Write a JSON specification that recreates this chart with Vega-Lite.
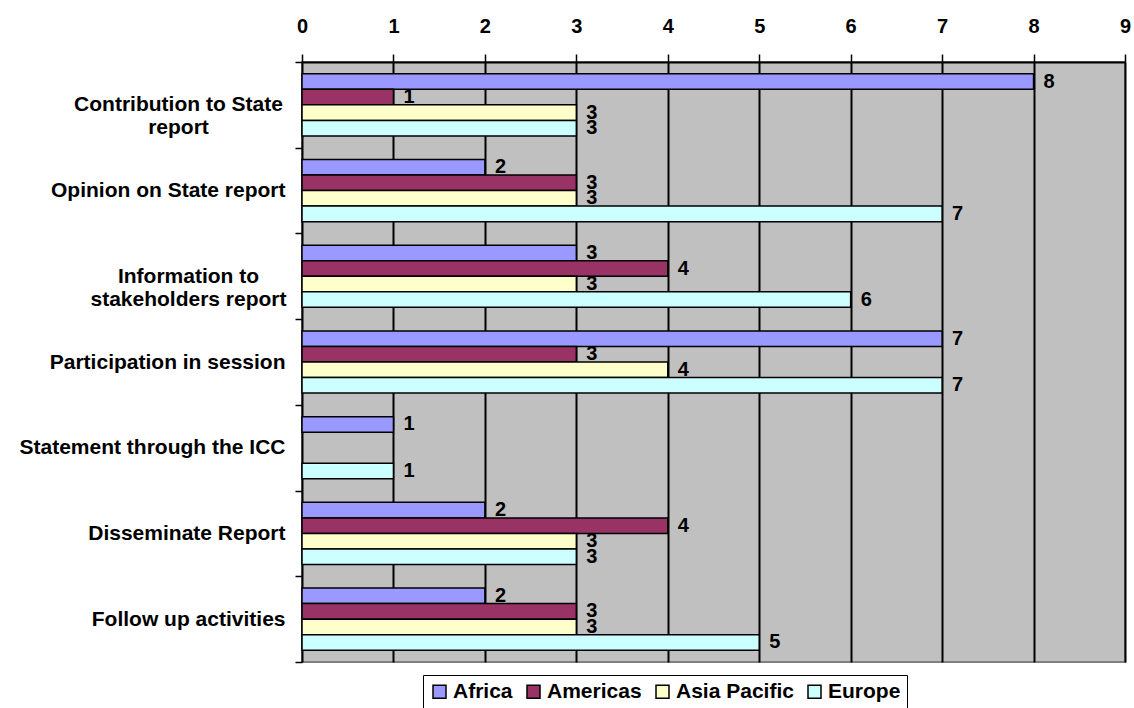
{
  "$schema": "https://vega.github.io/schema/vega-lite/v6.json",
  "width": 823,
  "height": 600,
  "autosize": {"type": "none"},
  "padding": {"left": 302, "top": 62, "right": 9, "bottom": 46},
  "background": "white",
  "config": {
    "view": {"fill": "#C0C0C0", "stroke": "#808080", "strokeWidth": 2},
    "font": "Liberation Sans"
  },
  "data": {
    "values": [
      {"activity": "Contribution to State report", "region": "Africa", "count": 8},
      {"activity": "Contribution to State report", "region": "Americas", "count": 1},
      {"activity": "Contribution to State report", "region": "Asia Pacific", "count": 3},
      {"activity": "Contribution to State report", "region": "Europe", "count": 3},
      {"activity": "Opinion on State report", "region": "Africa", "count": 2},
      {"activity": "Opinion on State report", "region": "Americas", "count": 3},
      {"activity": "Opinion on State report", "region": "Asia Pacific", "count": 3},
      {"activity": "Opinion on State report", "region": "Europe", "count": 7},
      {"activity": "Information to stakeholders report", "region": "Africa", "count": 3},
      {"activity": "Information to stakeholders report", "region": "Americas", "count": 4},
      {"activity": "Information to stakeholders report", "region": "Asia Pacific", "count": 3},
      {"activity": "Information to stakeholders report", "region": "Europe", "count": 6},
      {"activity": "Participation in session", "region": "Africa", "count": 7},
      {"activity": "Participation in session", "region": "Americas", "count": 3},
      {"activity": "Participation in session", "region": "Asia Pacific", "count": 4},
      {"activity": "Participation in session", "region": "Europe", "count": 7},
      {"activity": "Statement through the ICC", "region": "Africa", "count": 1},
      {"activity": "Statement through the ICC", "region": "Europe", "count": 1},
      {"activity": "Disseminate Report", "region": "Africa", "count": 2},
      {"activity": "Disseminate Report", "region": "Americas", "count": 4},
      {"activity": "Disseminate Report", "region": "Asia Pacific", "count": 3},
      {"activity": "Disseminate Report", "region": "Europe", "count": 3},
      {"activity": "Follow up activities", "region": "Africa", "count": 2},
      {"activity": "Follow up activities", "region": "Americas", "count": 3},
      {"activity": "Follow up activities", "region": "Asia Pacific", "count": 3},
      {"activity": "Follow up activities", "region": "Europe", "count": 5}
    ]
  },
  "encoding": {
    "y": {
      "field": "activity",
      "type": "nominal",
      "sort": null,
      "scale": {"paddingInner": 0, "paddingOuter": 0},
      "axis": {
        "title": null,
        "tickBand": "extent",
        "grid": false,
        "domain": false,
        "tickColor": "black",
        "tickWidth": 1.5,
        "tickSize": 7,
        "labelPadding": {"condition": [{"test": "datum.value == 'Contribution to State report'", "value": 117}, {"test": "datum.value == 'Information to stakeholders report'", "value": 107}], "value": 10},
        "labelAlign": {"condition": {"test": "datum.value == 'Contribution to State report' || datum.value == 'Information to stakeholders report'", "value": "center"}, "value": "right"},
        "labelFont": "Liberation Sans",
        "labelFontSize": 21,
        "labelFontWeight": "bold",
        "labelColor": "black",
        "labelLineHeight": 23,
        "labelLimit": 400,
        "labelExpr": "datum.value == 'Contribution to State report' ? ['Contribution to State', 'report'] : datum.value == 'Information to stakeholders report' ? ['Information to', 'stakeholders report'] : datum.value"
      }
    },
    "yOffset": {
      "field": "region",
      "type": "nominal",
      "scale": {"domain": ["Africa", "Americas", "Asia Pacific", "Europe"], "paddingInner": 0, "paddingOuter": 0.76}
    },
    "x": {
      "field": "count",
      "type": "quantitative",
      "scale": {"domain": [0, 9], "nice": false},
      "axis": {
        "orient": "top",
        "title": null,
        "values": [0, 1, 2, 3, 4, 5, 6, 7, 8, 9],
        "format": "d",
        "grid": true,
        "gridColor": "black",
        "gridWidth": 2,
        "gridOpacity": 1,
        "domainColor": "black",
        "domainWidth": 2,
        "tickColor": "black",
        "tickWidth": 1.5,
        "tickSize": 8,
        "labelPadding": 18,
        "labelFont": "Liberation Sans",
        "labelFontSize": 20,
        "labelFontWeight": "bold",
        "labelColor": "black",
        "labelFlush": false
      }
    }
  },
  "layer": [
    {
      "mark": {"type": "bar", "stroke": "black", "strokeWidth": 1.5, "opacity": 1},
      "encoding": {
        "color": {
          "field": "region",
          "type": "nominal",
          "scale": {"domain": ["Africa", "Americas", "Asia Pacific", "Europe"], "range": ["#9999FF", "#993366", "#FFFFCC", "#CCFFFF"]},
          "legend": {
            "title": null,
            "orient": "none",
            "direction": "horizontal",
            "legendX": 121,
            "legendY": 613,
            "padding": 6,
            "strokeColor": "black",
            "fillColor": "white",
            "symbolType": "square",
            "symbolSize": 169,
            "symbolStrokeColor": "black",
            "symbolStrokeWidth": 1.5,
            "symbolOpacity": 1,
            "labelFont": "Liberation Sans",
            "labelFontSize": 21,
            "labelFontWeight": "bold",
            "labelColor": "black",
            "labelOffset": 3,
            "columnPadding": 10
          }
        }
      }
    },
    {
      "mark": {"type": "text", "align": "left", "baseline": "middle", "dx": 10, "dy": 0, "fontSize": 20, "fontWeight": "bold", "color": "black", "font": "Liberation Sans"},
      "encoding": {
        "text": {"field": "count", "type": "quantitative"}
      }
    }
  ]
}
